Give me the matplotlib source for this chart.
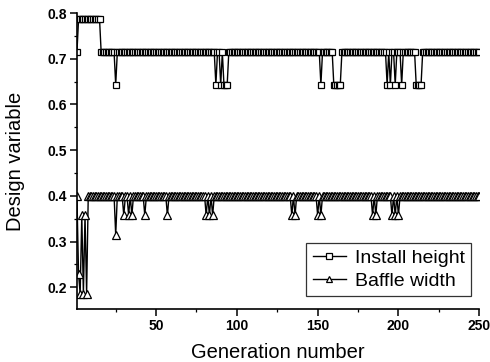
import numpy as np
import matplotlib
matplotlib.use('Agg')
import matplotlib.pyplot as plt
from matplotlib.ticker import MultipleLocator

plt.rcParams['font.family'] = ['Liberation Sans', 'DejaVu Sans']

# generation 1..250, values
generations = np.arange(1, 251)

install_height = [
    0.714, 0.786, 0.786, 0.786, 0.786, 0.786, 0.786, 0.786, 0.786, 0.786,
    0.786, 0.786, 0.786, 0.786, 0.786, 0.714, 0.714, 0.714, 0.714, 0.714,
    0.714, 0.714, 0.714, 0.714, 0.643, 0.714, 0.714, 0.714, 0.714, 0.714,
    0.714, 0.714, 0.714, 0.714, 0.714, 0.714, 0.714, 0.714, 0.714, 0.714,
    0.714, 0.714, 0.714, 0.714, 0.714, 0.714, 0.714, 0.714, 0.714, 0.714,
    0.714, 0.714, 0.714, 0.714, 0.714, 0.714, 0.714, 0.714, 0.714, 0.714,
    0.714, 0.714, 0.714, 0.714, 0.714, 0.714, 0.714, 0.714, 0.714, 0.714,
    0.714, 0.714, 0.714, 0.714, 0.714, 0.714, 0.714, 0.714, 0.714, 0.714,
    0.714, 0.714, 0.714, 0.714, 0.714, 0.714, 0.643, 0.714, 0.714, 0.643,
    0.714, 0.643, 0.643, 0.643, 0.714, 0.714, 0.714, 0.714, 0.714, 0.714,
    0.714, 0.714, 0.714, 0.714, 0.714, 0.714, 0.714, 0.714, 0.714, 0.714,
    0.714, 0.714, 0.714, 0.714, 0.714, 0.714, 0.714, 0.714, 0.714, 0.714,
    0.714, 0.714, 0.714, 0.714, 0.714, 0.714, 0.714, 0.714, 0.714, 0.714,
    0.714, 0.714, 0.714, 0.714, 0.714, 0.714, 0.714, 0.714, 0.714, 0.714,
    0.714, 0.714, 0.714, 0.714, 0.714, 0.714, 0.714, 0.714, 0.714, 0.714,
    0.714, 0.643, 0.714, 0.714, 0.714, 0.714, 0.714, 0.714, 0.714, 0.643,
    0.643, 0.643, 0.643, 0.643, 0.714, 0.714, 0.714, 0.714, 0.714, 0.714,
    0.714, 0.714, 0.714, 0.714, 0.714, 0.714, 0.714, 0.714, 0.714, 0.714,
    0.714, 0.714, 0.714, 0.714, 0.714, 0.714, 0.714, 0.714, 0.714, 0.714,
    0.714, 0.714, 0.643, 0.714, 0.643, 0.714, 0.714, 0.643, 0.714, 0.714,
    0.714, 0.643, 0.714, 0.714, 0.714, 0.714, 0.714, 0.714, 0.714, 0.714,
    0.643, 0.643, 0.643, 0.643, 0.714, 0.714, 0.714, 0.714, 0.714, 0.714,
    0.714, 0.714, 0.714, 0.714, 0.714, 0.714, 0.714, 0.714, 0.714, 0.714,
    0.714, 0.714, 0.714, 0.714, 0.714, 0.714, 0.714, 0.714, 0.714, 0.714,
    0.714, 0.714, 0.714, 0.714, 0.714, 0.714, 0.714, 0.714, 0.714, 0.714,
]

baffle_width = [
    0.400, 0.229, 0.186, 0.357, 0.186, 0.357, 0.186, 0.400, 0.400, 0.400,
    0.400, 0.400, 0.400, 0.400, 0.400, 0.400, 0.400, 0.400, 0.400, 0.400,
    0.400, 0.400, 0.400, 0.400, 0.314, 0.400, 0.400, 0.400, 0.400, 0.357,
    0.400, 0.400, 0.357, 0.400, 0.357, 0.400, 0.400, 0.400, 0.400, 0.400,
    0.400, 0.400, 0.357, 0.400, 0.400, 0.400, 0.400, 0.400, 0.400, 0.400,
    0.400, 0.400, 0.400, 0.400, 0.400, 0.400, 0.357, 0.400, 0.400, 0.400,
    0.400, 0.400, 0.400, 0.400, 0.400, 0.400, 0.400, 0.400, 0.400, 0.400,
    0.400, 0.400, 0.400, 0.400, 0.400, 0.400, 0.400, 0.400, 0.400, 0.400,
    0.357, 0.400, 0.357, 0.400, 0.357, 0.400, 0.400, 0.400, 0.400, 0.400,
    0.400, 0.400, 0.400, 0.400, 0.400, 0.400, 0.400, 0.400, 0.400, 0.400,
    0.400, 0.400, 0.400, 0.400, 0.400, 0.400, 0.400, 0.400, 0.400, 0.400,
    0.400, 0.400, 0.400, 0.400, 0.400, 0.400, 0.400, 0.400, 0.400, 0.400,
    0.400, 0.400, 0.400, 0.400, 0.400, 0.400, 0.400, 0.400, 0.400, 0.400,
    0.400, 0.400, 0.400, 0.357, 0.400, 0.357, 0.400, 0.400, 0.400, 0.400,
    0.400, 0.400, 0.400, 0.400, 0.400, 0.400, 0.400, 0.400, 0.400, 0.357,
    0.400, 0.357, 0.400, 0.400, 0.400, 0.400, 0.400, 0.400, 0.400, 0.400,
    0.400, 0.400, 0.400, 0.400, 0.400, 0.400, 0.400, 0.400, 0.400, 0.400,
    0.400, 0.400, 0.400, 0.400, 0.400, 0.400, 0.400, 0.400, 0.400, 0.400,
    0.400, 0.400, 0.400, 0.357, 0.400, 0.357, 0.400, 0.400, 0.400, 0.400,
    0.400, 0.400, 0.400, 0.400, 0.400, 0.357, 0.400, 0.357, 0.400, 0.357,
    0.400, 0.400, 0.400, 0.400, 0.400, 0.400, 0.400, 0.400, 0.400, 0.400,
    0.400, 0.400, 0.400, 0.400, 0.400, 0.400, 0.400, 0.400, 0.400, 0.400,
    0.400, 0.400, 0.400, 0.400, 0.400, 0.400, 0.400, 0.400, 0.400, 0.400,
    0.400, 0.400, 0.400, 0.400, 0.400, 0.400, 0.400, 0.400, 0.400, 0.400,
    0.400, 0.400, 0.400, 0.400, 0.400, 0.400, 0.400, 0.400, 0.400, 0.400,
]

fig = plt.figure(figsize=(4.9, 3.62), dpi=100)
ax = fig.add_axes([0.157, 0.146, 0.821, 0.818])

ax.plot(generations, install_height, color='black', linewidth=1.0,
        marker='s', markersize=4.5, markerfacecolor='white',
        markeredgecolor='black', markeredgewidth=0.9, label='Install height')
ax.plot(generations, baffle_width, color='black', linewidth=1.0,
        marker='^', markersize=5.2, markerfacecolor='white',
        markeredgecolor='black', markeredgewidth=0.9, label='Baffle width')

ax.set_xlim(1, 250)
ax.set_ylim(0.152, 0.8)
ax.xaxis.set_major_locator(MultipleLocator(50))
ax.xaxis.set_minor_locator(MultipleLocator(25))
ax.yaxis.set_major_locator(MultipleLocator(0.1))
ax.yaxis.set_minor_locator(MultipleLocator(0.05))
ax.yaxis.set_major_formatter(plt.FormatStrFormatter('%.1f'))

for side in ['top', 'right']:
    ax.spines[side].set_visible(False)
for side in ['left', 'bottom']:
    ax.spines[side].set_linewidth(1.2)

ax.tick_params(which='major', direction='out', length=5, width=1.1,
               labelsize=10, pad=2)
ax.tick_params(which='minor', direction='out', length=2.5, width=0.9)
for lbl in ax.get_xticklabels() + ax.get_yticklabels():
    lbl.set_fontweight('bold')

ax.set_xlabel('Generation number', fontsize=14.5, labelpad=7)
ax.set_ylabel('Design variable', fontsize=14.5, labelpad=16)

leg = ax.legend(loc='lower right', bbox_to_anchor=(0.99, 0.03),
                fontsize=14, frameon=True, fancybox=False,
                handlelength=1.7, handletextpad=0.45, borderpad=0.35,
                labelspacing=0.25, borderaxespad=0.2, markerscale=0.85)
leg.get_frame().set_edgecolor('black')
leg.get_frame().set_linewidth(0.9)

fig.savefig('out.png', dpi=100)
